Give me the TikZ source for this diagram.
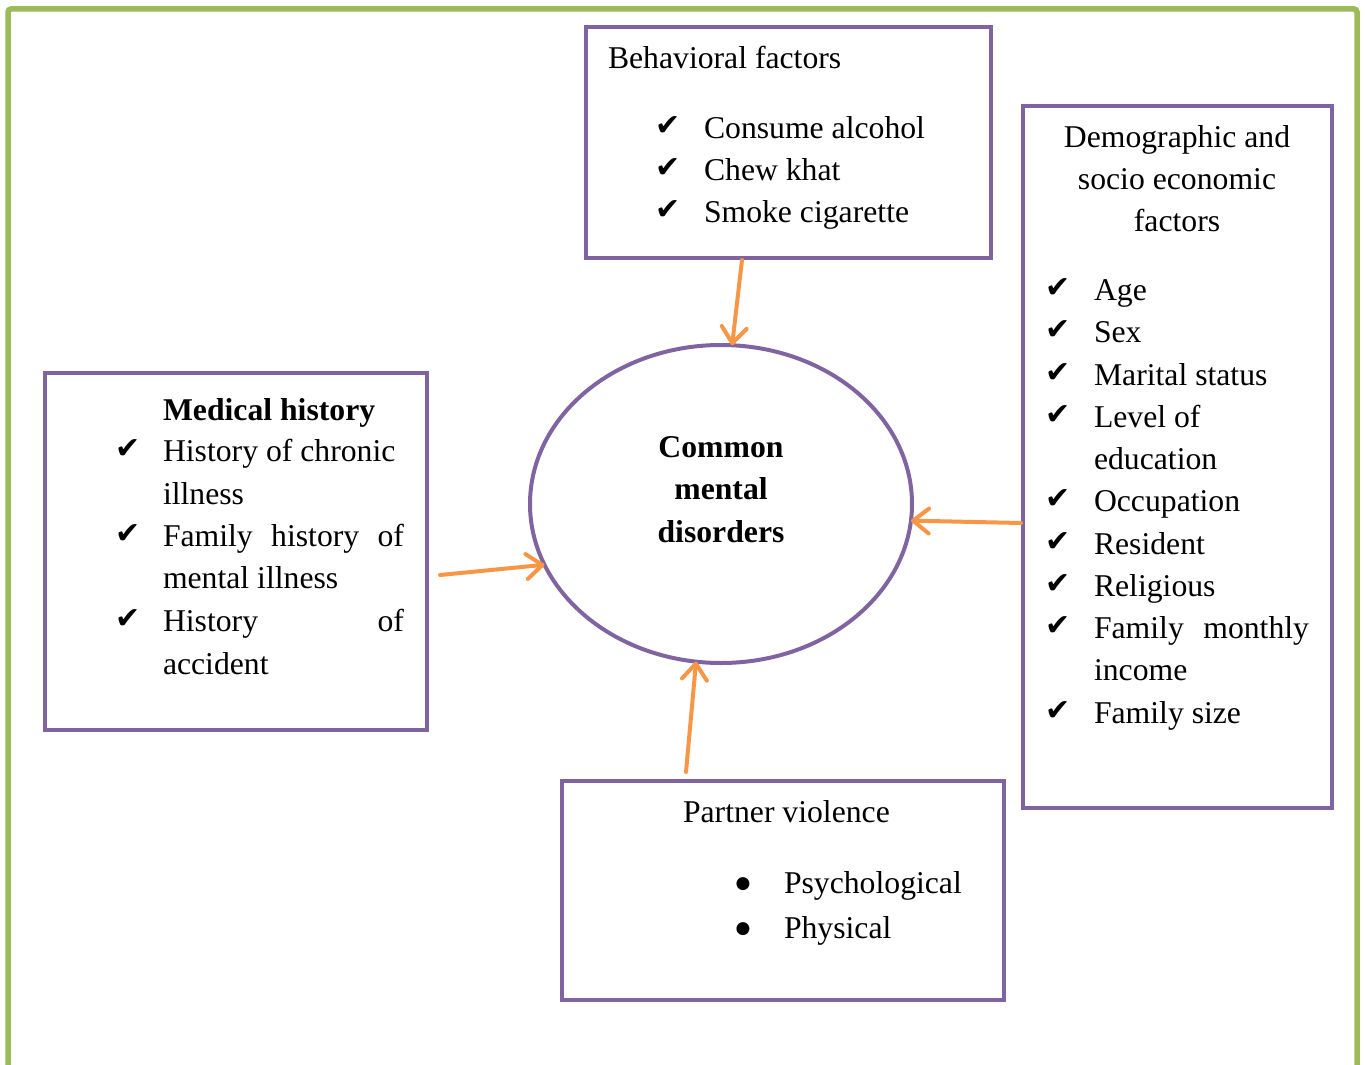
\documentclass[tikz,border=0pt]{standalone}
\usepackage{fontspec}
\setmainfont{Liberation Serif}
\newfontfamily\symfont{DejaVu Sans}
\usetikzlibrary{shapes.geometric,arrows.meta}
\definecolor{frameGreen}{HTML}{9BBB59}
\definecolor{boxPurple}{HTML}{8064A2}
\definecolor{arrOrange}{HTML}{F79646}
\begin{document}
\begin{tikzpicture}[x=1pt,y=-1pt,
  box/.style={draw=boxPurple, line width=4pt, rectangle, inner sep=0pt, outer sep=0pt},
  circ/.style={draw=boxPurple, line width=4pt, ellipse, inner sep=0pt, outer sep=0pt},
  txt/.style={anchor=base west, inner sep=0pt, outer sep=0pt, font=\fontsize{31.7}{42}\selectfont},
  ctxt/.style={txt, anchor=base},
  chk/.style={anchor=center, inner sep=0pt, outer sep=0pt, font=\symfont\fontsize{30}{34}\selectfont},
  bul/.style={anchor=center, inner sep=0pt, outer sep=0pt, font=\symfont\fontsize{17}{22}\selectfont},
  infl/.style={draw=arrOrange, line width=4pt, line cap=round,
    -{Straight Barb[length=16pt,width=25pt,line cap=round,line join=round]}}]
\useasboundingbox (0,0) rectangle (1365,1065);
% outer frame
\draw[frameGreen, line width=5.5pt, rounded corners=3pt] (8,1070) -- (8,9) -- (1357,9) -- (1357,1070);

% boxes
\node[box, minimum width=405pt, minimum height=231pt] (beh) at (788.5,142.5) {};
\node[box, minimum width=309pt, minimum height=702pt] (dem) at (1177.5,457) {};
\node[box, minimum width=382pt, minimum height=357pt] (med) at (236,551.5) {};
\node[box, minimum width=442pt, minimum height=219pt] (par) at (783,890.5) {};
\node[circ, minimum width=382pt, minimum height=318pt] (cmd) at (721,504) {};

% behavioral
\node[txt] (bh) at (608,69) {Behavioral factors};
\node[chk] (bc1) at (668,126) {✔};
\node[txt] (b1) at (704,138) {Consume alcohol};
\node[chk] (bc2) at (668,168) {✔};
\node[txt] (b2) at (704,180) {Chew khat};
\node[chk] (bc3) at (668,210) {✔};
\node[txt] (b3) at (704,222) {Smoke cigarette};

% demographic
\node[ctxt] (dh1) at (1177,147) {Demographic and};
\node[ctxt] (dh2) at (1177,189) {socio economic};
\node[ctxt] (dh3) at (1177,231) {factors};
\node[chk] (dc1) at (1058,288) {✔};
\node[txt] (d1) at (1094,300) {Age};
\node[chk] (dc2) at (1058,330) {✔};
\node[txt] (d2) at (1094,342) {Sex};
\node[chk] (dc3) at (1058,373) {✔};
\node[txt] (d3) at (1094,385) {Marital status};
\node[chk] (dc4) at (1058,415) {✔};
\node[txt] (d4) at (1094,427) {Level of};
\node[txt] (d4b) at (1094,469) {education};
\node[chk] (dc5) at (1058,499) {✔};
\node[txt] (d5) at (1094,511) {Occupation};
\node[chk] (dc6) at (1058,542) {✔};
\node[txt] (d6) at (1094,554) {Resident};
\node[chk] (dc7) at (1058,584) {✔};
\node[txt] (d7) at (1094,596) {Religious};
\node[chk] (dc8) at (1058,626) {✔};
\node[txt] (d8) at (1094,638) {\hbox to 215pt{Family\hfill monthly}};
\node[txt] (d8b) at (1094,680) {income};
\node[chk] (dc9) at (1058,711) {✔};
\node[txt] (d9) at (1094,723) {Family size};

% medical
\node[txt, font=\fontsize{31.7}{42}\selectfont\bfseries] (mh) at (163,420) {Medical history};
\node[chk] (mc1) at (128,449) {✔};
\node[txt] (m1) at (163,461) {History of chronic};
\node[txt] (m1b) at (163,504) {illness};
\node[chk] (mc2) at (128,534) {✔};
\node[txt] (m2) at (163,546) {\hbox to 241pt{Family\hfill history\hfill of}};
\node[txt] (m2b) at (163,588) {mental illness};
\node[chk] (mc3) at (128,619) {✔};
\node[txt] (m3) at (163,631) {\hbox to 241pt{History\hfill of}};
\node[txt] (m3b) at (163,674) {accident};

% center
\node[ctxt, font=\fontsize{31.7}{42}\selectfont\bfseries] (c1) at (721,457) {Common};
\node[ctxt, font=\fontsize{31.7}{42}\selectfont\bfseries] (c2) at (721,499) {mental};
\node[ctxt, font=\fontsize{31.7}{42}\selectfont\bfseries] (c3) at (721,542) {disorders};

% partner
\node[txt] (ph) at (683,822) {Partner violence};
\node[bul] (pb1) at (743,884) {●};
\node[txt] (p1) at (784,893) {Psychological};
\node[bul] (pb2) at (743,929) {●};
\node[txt] (p2) at (784,938) {Physical};

% arrows
\coordinate (sBeh) at (742,260);
\coordinate (sDem) at (1021,523);
\coordinate (sMed) at (440,575);
\coordinate (sPar) at (686,772);
\draw[infl] (sBeh) -- (cmd.86);
\draw[infl] (sDem) -- (cmd.-5.6);
\draw[infl] (sMed) -- (cmd.199);
\draw[infl] (sPar) -- (cmd.261.5);
\end{tikzpicture}
\end{document}
